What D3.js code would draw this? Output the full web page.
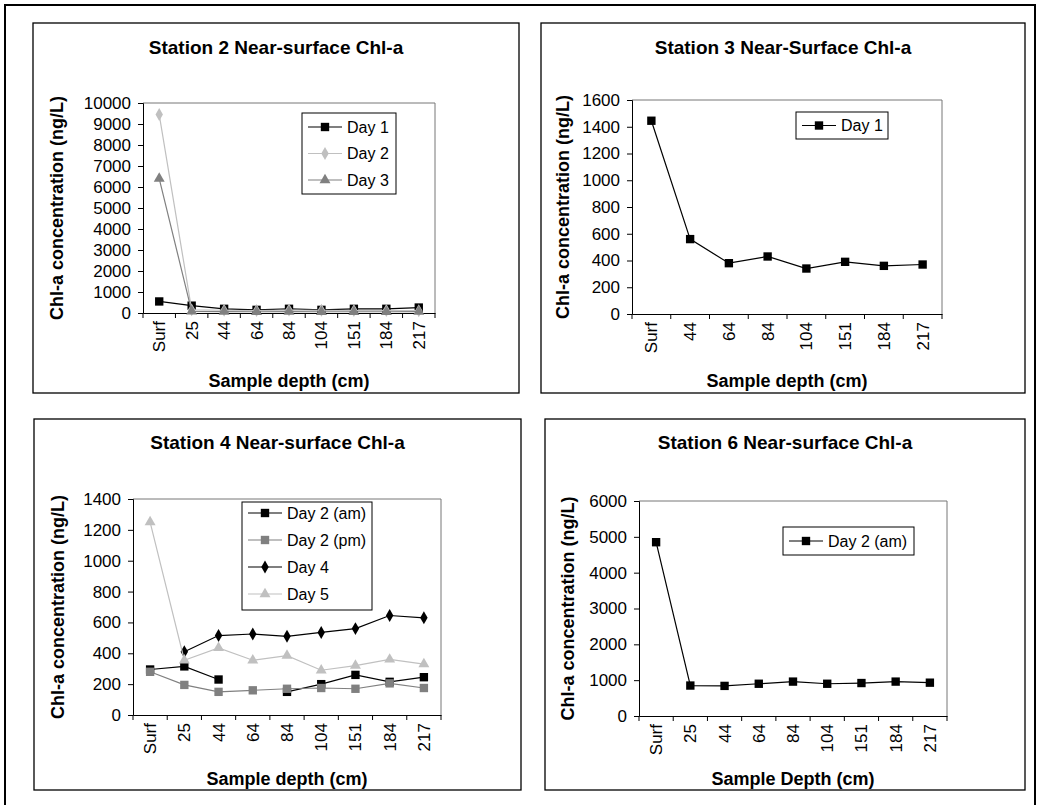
<!DOCTYPE html>
<html>
<head>
<meta charset="utf-8">
<script src="https://cdn.jsdelivr.net/npm/d3@7"></script>
<style>
  html, body { margin: 0; padding: 0; background: #fff; }
  svg text { font-family: "Liberation Sans", Arial, sans-serif; }
</style>
</head>
<body>
<svg id="chart" width="1038" height="805"></svg>
<script>
// Sample depths (cm) on the category axes
const depthsFull = ["Surf", "25", "44", "64", "84", "104", "151", "184", "217"];
const depthsSt3 = ["Surf", "44", "64", "84", "104", "151", "184", "217"];

// Station 2 chlorophyll-a (ng/L)
const st2Day1 = [550, 350, 200, 150, 200, 150, 200, 200, 260];
const st2Day2 = [9450, 150, 130, 120, 140, 130, 120, 120, 110];
const st2Day3 = [6400, 80, 70, 60, 70, 60, 60, 60, 70];
const st2Ticks = [0, 1000, 2000, 3000, 4000, 5000, 6000, 7000, 8000, 9000, 10000];

// Station 3
const st3Day1 = [1445, 560, 380, 430, 340, 390, 360, 370];
const st3Ticks = [0, 200, 400, 600, 800, 1000, 1200, 1400, 1600];

// Station 4
const st4Day2am = [295, 315, 230, null, 150, 200, 260, 215, 245];
const st4Day2pm = [280, 195, 150, 160, 170, 175, 170, 205, 175];
const st4Day4 = [null, 410, 515, 525, 510, 535, 560, 645, 630];
const st4Day5 = [1250, 355, 435, 355, 385, 290, 320, 360, 330];
const st4Ticks = [0, 200, 400, 600, 800, 1000, 1200, 1400];

// Station 6
const st6Day2am = [4850, 850, 840, 900, 960, 900, 920, 960, 930];
const st6Ticks = [0, 1000, 2000, 3000, 4000, 5000, 6000];

const svg = d3.select("#chart");
const FONT = "'Liberation Sans', Arial, sans-serif";

// Outer frame around the whole figure
svg.append("rect")
  .attr("x", 5).attr("y", 5).attr("width", 1030).attr("height", 820)
  .attr("fill", "none").attr("stroke", "#000").attr("stroke-width", 2);

const symbolTypes = {
  square: d3.symbolSquare,
  diamond: d3.symbolDiamond,
  triangle: d3.symbolTriangle
};
const symbolSizes = { square: 70, diamond: 48, triangle: 52 };

function drawPanel(p) {
  const g = svg.append("g");

  // panel box
  g.append("rect")
    .attr("x", p.box[0]).attr("y", p.box[1])
    .attr("width", p.box[2] - p.box[0]).attr("height", p.box[3] - p.box[1])
    .attr("fill", "#fff").attr("stroke", "#000").attr("stroke-width", 1.3);

  const x = d3.scaleBand().domain(p.cats).range(p.xr).padding(0);
  const y = d3.scaleLinear().domain([0, d3.max(p.ticks)]).range([p.yr[1], p.yr[0]]);

  // plot area border (top/right lighter)
  g.append("path")
    .attr("d", `M${p.xr[0]},${p.yr[0]}H${p.xr[1]}V${p.yr[1]}`)
    .attr("fill", "none").attr("stroke", "#777").attr("stroke-width", 1);

  // y axis
  const ya = g.append("g")
    .attr("transform", `translate(${p.xr[0]},0)`)
    .call(d3.axisLeft(y).tickValues(p.ticks).tickSize(5).tickPadding(7).tickFormat(d3.format("d")));
  ya.select(".domain").attr("stroke", "#000");
  ya.selectAll("text").attr("font-size", 17).attr("fill", "#000").style("font-family", FONT);

  // x axis: labels centred in each category, ticks on category boundaries
  const xa = g.append("g")
    .attr("transform", `translate(0,${p.yr[1]})`)
    .call(d3.axisBottom(x).tickSize(0).tickPadding(0));
  xa.select(".domain").attr("stroke", "#000");
  xa.selectAll(".tick text")
    .attr("font-size", 17).attr("fill", "#000").style("font-family", FONT)
    .attr("text-anchor", "end")
    .attr("dy", null)
    .attr("transform", "translate(6,8) rotate(-90)");
  const bounds = p.cats.map(c => x(c)).concat([x.range()[1]]);
  xa.selectAll(".bound").data(bounds).join("line")
    .attr("class", "bound")
    .attr("x1", d => d).attr("x2", d => d)
    .attr("y1", 0).attr("y2", 5)
    .attr("stroke", "#000");

  // series
  const line = d3.line()
    .defined(d => d.v != null)
    .x(d => x(d.c) + x.bandwidth() / 2)
    .y(d => y(d.v));

  p.series.forEach(s => {
    const pts = p.cats.map((c, i) => ({ c, v: s.values[i] }));
    g.append("path")
      .attr("d", line(pts))
      .attr("fill", "none").attr("stroke", s.color).attr("stroke-width", 1.2);
    g.selectAll(null).data(pts.filter(d => d.v != null)).join("path")
      .attr("transform", d => `translate(${x(d.c) + x.bandwidth() / 2},${y(d.v)})`)
      .attr("d", d3.symbol(symbolTypes[s.marker], symbolSizes[s.marker]))
      .attr("fill", s.color);
  });

  // legend
  const L = p.legend;
  g.append("rect")
    .attr("x", L.x).attr("y", L.y).attr("width", L.w).attr("height", L.h)
    .attr("fill", "#fff").attr("stroke", "#000").attr("stroke-width", 1);
  p.series.forEach((s, i) => {
    const cy = L.y + L.first + i * L.step;
    g.append("line")
      .attr("x1", L.x + 6).attr("x2", L.x + 40).attr("y1", cy).attr("y2", cy)
      .attr("stroke", s.color).attr("stroke-width", 1.2);
    g.append("path")
      .attr("transform", `translate(${L.x + 23},${cy})`)
      .attr("d", d3.symbol(symbolTypes[s.marker], symbolSizes[s.marker]))
      .attr("fill", s.color);
    g.append("text")
      .attr("x", L.x + 45).attr("y", cy).attr("dy", "0.35em")
      .attr("font-size", 16).style("font-family", FONT)
      .text(s.name);
  });

  // title and axis titles
  g.append("text")
    .attr("x", (p.box[0] + p.box[2]) / 2).attr("y", p.titleY).attr("dy", "0.35em")
    .attr("text-anchor", "middle").attr("font-size", 19).attr("font-weight", "bold")
    .style("font-family", FONT)
    .text(p.title);
  g.append("text")
    .attr("x", (p.xr[0] + p.xr[1]) / 2).attr("y", p.xlabelY).attr("dy", "0.35em")
    .attr("text-anchor", "middle").attr("font-size", 18).attr("font-weight", "bold")
    .style("font-family", FONT)
    .text(p.xlabel);
  g.append("text")
    .attr("transform", `translate(${p.ylabelX},${(p.yr[0] + p.yr[1]) / 2}) rotate(-90)`)
    .attr("dy", "0.35em")
    .attr("text-anchor", "middle").attr("font-size", 18).attr("font-weight", "bold")
    .style("font-family", FONT)
    .text("Chl-a concentration (ng/L)");
}

drawPanel({
  box: [33, 23, 519, 393], xr: [143, 435], yr: [103, 313],
  cats: depthsFull, ticks: st2Ticks,
  title: "Station 2 Near-surface Chl-a", titleY: 47,
  xlabel: "Sample depth (cm)", xlabelY: 381, ylabelX: 57,
  legend: { x: 302, y: 113, w: 94, h: 81, first: 14, step: 26.5 },
  series: [
    { name: "Day 1", values: st2Day1, color: "#000000", marker: "square" },
    { name: "Day 2", values: st2Day2, color: "#c0c0c0", marker: "diamond" },
    { name: "Day 3", values: st2Day3, color: "#808080", marker: "triangle" }
  ]
});

drawPanel({
  box: [541, 23, 1025, 393], xr: [632, 942], yr: [100, 314],
  cats: depthsSt3, ticks: st3Ticks,
  title: "Station 3 Near-Surface Chl-a", titleY: 47,
  xlabel: "Sample depth (cm)", xlabelY: 381, ylabelX: 563,
  legend: { x: 796, y: 112, w: 92, h: 27, first: 13.5, step: 27 },
  series: [
    { name: "Day 1", values: st3Day1, color: "#000000", marker: "square" }
  ]
});

drawPanel({
  box: [34, 419, 521, 790], xr: [133, 441], yr: [499, 715],
  cats: depthsFull, ticks: st4Ticks,
  title: "Station 4 Near-surface Chl-a", titleY: 442,
  xlabel: "Sample depth (cm)", xlabelY: 779, ylabelX: 58,
  legend: { x: 242, y: 502, w: 130, h: 108, first: 11, step: 27 },
  series: [
    { name: "Day 2 (am)", values: st4Day2am, color: "#000000", marker: "square" },
    { name: "Day 2 (pm)", values: st4Day2pm, color: "#808080", marker: "square" },
    { name: "Day 4", values: st4Day4, color: "#000000", marker: "diamond" },
    { name: "Day 5", values: st4Day5, color: "#c0c0c0", marker: "triangle" }
  ]
});

drawPanel({
  box: [545, 419, 1025, 790], xr: [639, 947], yr: [501, 716],
  cats: depthsFull, ticks: st6Ticks,
  title: "Station 6 Near-surface Chl-a", titleY: 442,
  xlabel: "Sample Depth (cm)", xlabelY: 779, ylabelX: 568,
  legend: { x: 783, y: 527, w: 131, h: 28, first: 14, step: 27 },
  series: [
    { name: "Day 2 (am)", values: st6Day2am, color: "#000000", marker: "square" }
  ]
});
</script>
</body>
</html>
